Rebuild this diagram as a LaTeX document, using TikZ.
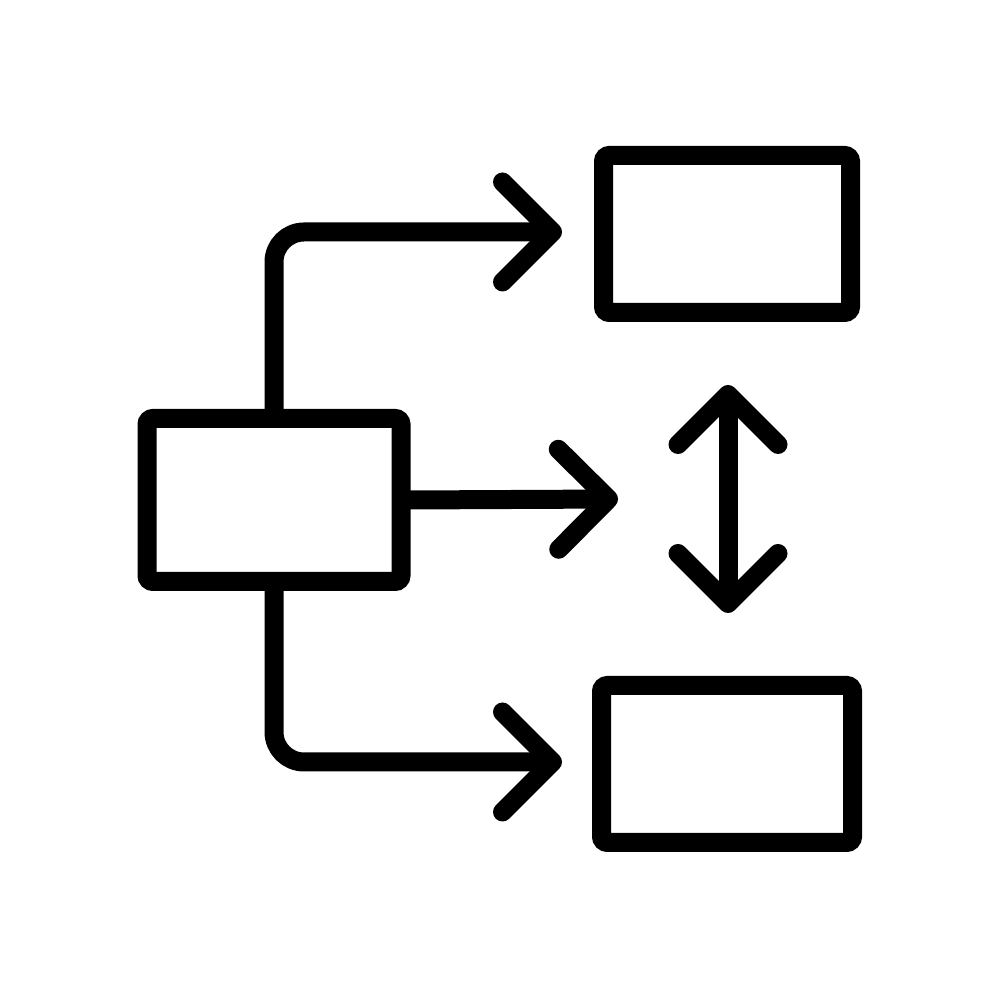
\documentclass[tikz,border=0pt]{standalone}
\usetikzlibrary{arrows.meta}
\begin{document}
\begin{tikzpicture}[
    box/.style={draw, line width=0.19cm, rounded corners=0.06cm, inner sep=0pt},
    flow/.style={line width=0.19cm, line cap=round, line join=round,
      -{Straight Barb[length=0.5cm, width=1.0cm, round]}},
    both/.style={flow, {Straight Barb[length=0.5cm, width=1.0cm, round]}-{Straight Barb[length=0.5cm, width=1.0cm, round]}}
  ]
  \useasboundingbox (0,0) rectangle (10,10);
  \node[box, minimum width=2.54cm, minimum height=1.63cm] (B0) at (2.74, 5.0) {};
  \node[box, minimum width=2.47cm, minimum height=1.57cm] (B1) at (7.27, 7.66) {};
  \node[box, minimum width=2.51cm, minimum height=1.57cm] (B2) at (7.27, 2.36) {};
  \coordinate (Q1) at (5.62, 7.68);
  \coordinate (Q0) at (6.18, 5.01);
  \coordinate (Q2) at (5.62, 2.38);
  \coordinate (Ua) at (7.28, 6.15);
  \coordinate (Ub) at (7.28, 3.87);
  \draw[flow, rounded corners=0.3cm] (B0.north) |- (Q1);
  \draw[flow] (B0.east) -- (Q0);
  \draw[flow, rounded corners=0.3cm] (B0.south) |- (Q2);
  \draw[both] (Ub) -- (Ua);
\end{tikzpicture}
\end{document}
